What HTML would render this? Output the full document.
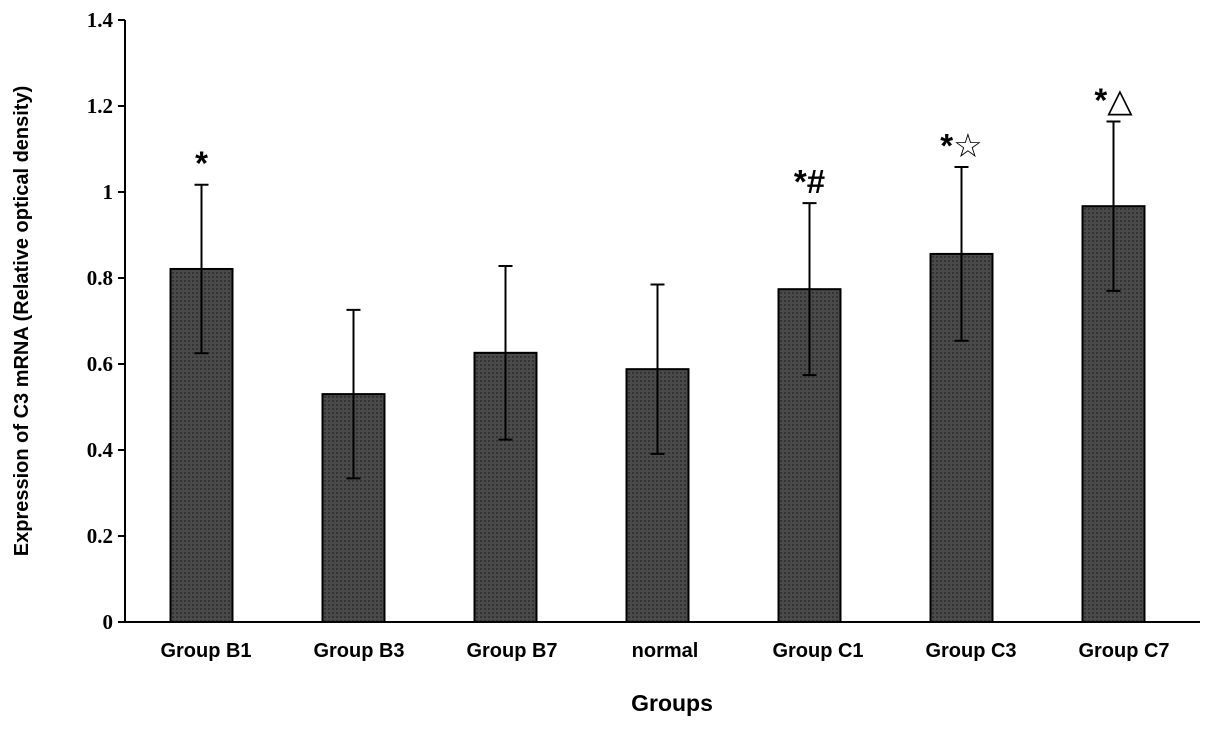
<!DOCTYPE html>
<html><head><meta charset="utf-8"><style>
body{margin:0;background:#fff;}
svg{display:block;}
</style></head><body>
<svg id="chart" width="1205" height="730">
<defs>
<pattern id="tex" width="4" height="4" patternUnits="userSpaceOnUse">
<rect width="4" height="4" fill="#4a4a4a"/><rect width="2" height="2" fill="#333"/>
</pattern>
</defs>
</svg>
<script>
const categories=["Group B1","Group B3","Group B7","normal","Group C1","Group C3","Group C7"];
const values=[0.821,0.530,0.626,0.588,0.774,0.856,0.967];
const errors=[0.196,0.196,0.202,0.197,0.200,0.202,0.197];
const marks=["*","","","","*#","*☆","*△"];
const yTicks=[0,0.2,0.4,0.6,0.8,1,1.2,1.4];
const yTickLabels=["0","0.2","0.4","0.6","0.8","1","1.2","1.4"];
const NS="http://www.w3.org/2000/svg";
const svg=document.getElementById('chart');
const x0=125,x1=1200,y0=622,yTop=20,yMax=1.4;
const Y=v=>y0-(v/yMax)*(y0-yTop);
const X=i=>201.5+152*i;
function el(t,a,txt){const e=document.createElementNS(NS,t);for(const k in a)e.setAttribute(k,a[k]);if(txt!==undefined)e.textContent=txt;svg.appendChild(e);return e;}
values.forEach((v,i)=>{
 const cx=X(i),w=62;
 const r=el('rect',{x:cx-w/2,y:Y(v),width:w,height:y0-Y(v),fill:'url(#tex)',stroke:'#000','stroke-width':2});
 
 
 const e=el('path',{d:`M${cx},${Y(v-errors[i])}V${Y(v+errors[i])}M${cx-7},${Y(v+errors[i])}H${cx+7}M${cx-7},${Y(v-errors[i])}H${cx+7}`,stroke:'#000','stroke-width':2,fill:'none'});
 
 
 if(marks[i]){const m=el('text',{x:cx,y:Y(v+errors[i])-10,'text-anchor':'middle','font-family':'Liberation Sans, DejaVu Sans, sans-serif','font-size':33,'font-weight':'bold'},marks[i]);
 
 }
 const t=el('text',{x:206+153*i,y:657,'text-anchor':'middle','font-family':'Liberation Sans, sans-serif','font-size':20,'font-weight':'bold'},categories[i]);
 
 
});
const ax=el('path',{d:`M${x0},${yTop}V${y0}H${x1}`,stroke:'#000','stroke-width':2,fill:'none'});


yTicks.forEach((v,i)=>{
 el('path',{d:`M${x0-7},${Y(v)}H${x0}`,stroke:'#000','stroke-width':2});
 const t=el('text',{x:x0-12,y:Y(v)+7,'text-anchor':'end','font-family':'Liberation Serif, serif','font-size':21,'font-weight':'bold'},yTickLabels[i]);
 
 
});
const xt=el('text',{x:672,y:711,'text-anchor':'middle','font-family':'Liberation Sans, sans-serif','font-size':23,'font-weight':'bold'},'Groups');


const yt=el('text',{x:0,y:0,transform:'translate(28,321) rotate(-90)','text-anchor':'middle','font-family':'Liberation Sans, sans-serif','font-size':20,'font-weight':'bold'},'Expression of C3 mRNA (Relative optical density)');


</script>
</body></html>
